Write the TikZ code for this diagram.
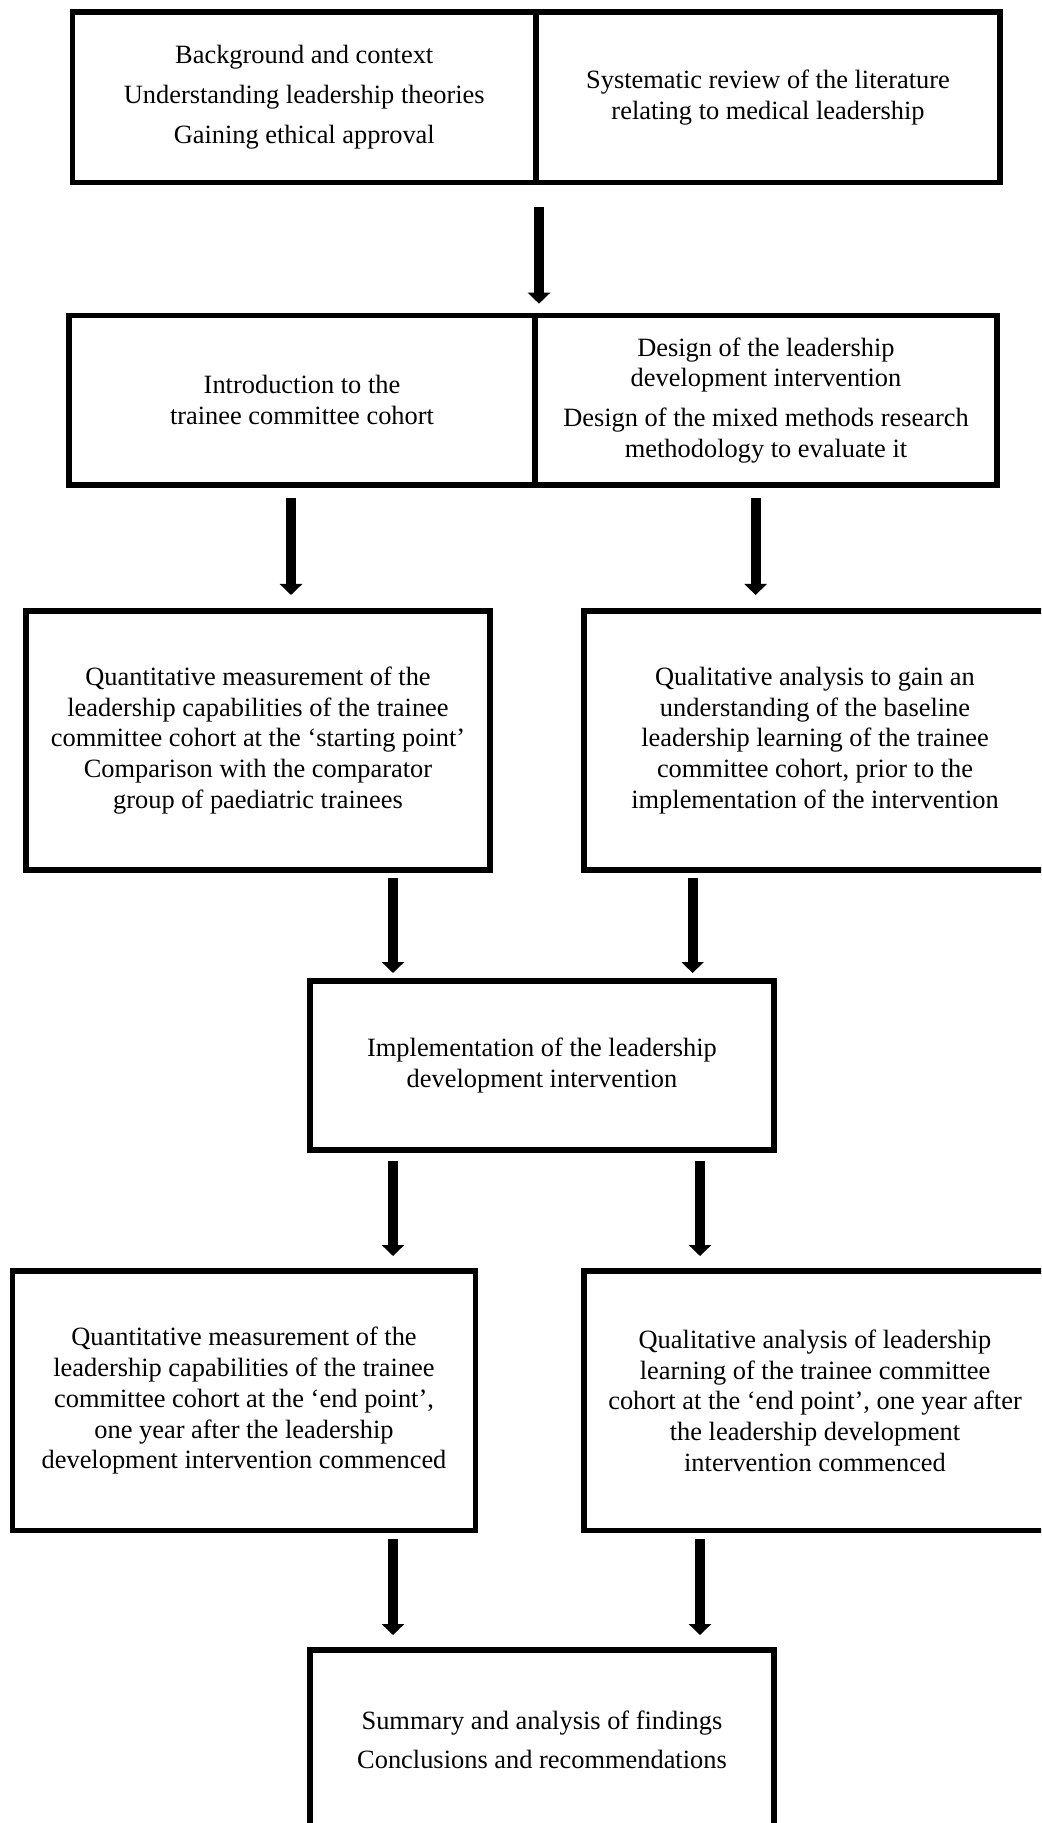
\documentclass[tikz,border=0pt]{standalone}
\usepackage{fontspec}
\setmainfont{Liberation Serif}
\usetikzlibrary{arrows.meta,calc}
% one drawing unit
\def\pu{0.4545pt}
\tikzset{
  box/.style={draw=black, line width=5.5*\pu, rectangle, inner sep=0pt, outer sep=0pt,
    align=center, font=\fontsize{12pt}{14pt}\selectfont},
  arr/.style={draw=black, line width=10*\pu, -{Triangle[width=22*\pu,length=11*\pu]}}
}
\begin{document}
\begin{tikzpicture}[x=\pu,y=-\pu]
\useasboundingbox (0,0) rectangle (1041,1823);
\clip (0,0) rectangle (1041,1823);

% stage 1
\node[box, minimum width=463.5*\pu, minimum height=170.5*\pu] (b1a) at (304.25,97.25)
  {Background and context\\[4pt]Understanding leadership theories\\[4pt]Gaining ethical approval};
\node[box, minimum width=464*\pu, minimum height=170.5*\pu] (b1b) at (768,97.25)
  {Systematic review of the literature\\relating to medical leadership};

% stage 2
\node[box, minimum width=466*\pu, minimum height=169.3*\pu] (b2a) at (302,400.35)
  {Introduction to the\\trainee committee cohort};
\node[box, minimum width=462*\pu, minimum height=169.3*\pu] (b2b) at (766,400.35)
  {Design of the leadership\\development intervention\\[4pt]Design of the mixed methods research\\methodology to evaluate it};

% stage 3
\node[box, minimum width=464*\pu, minimum height=259*\pu] (b3a) at (258,740.5)
  {Quantitative measurement of the\\leadership capabilities of the trainee\\committee cohort at the ‘starting point’\\Comparison with the comparator\\group of paediatric trainees};
\node[box, minimum width=462*\pu, minimum height=259*\pu] (b3b) at (815,740.5)
  {Qualitative analysis to gain an\\understanding of the baseline\\leadership learning of the trainee\\committee cohort, prior to the\\implementation of the intervention};

% stage 4
\node[box, minimum width=464*\pu, minimum height=169*\pu] (b4) at (542,1065.5)
  {Implementation of the leadership\\development intervention};

% stage 5
\node[box, minimum width=463*\pu, minimum height=259.5*\pu] (b5a) at (244,1400.75)
  {Quantitative measurement of the\\leadership capabilities of the trainee\\committee cohort at the ‘end point’,\\one year after the leadership\\development intervention commenced};
\node[box, minimum width=462*\pu, minimum height=259.5*\pu] (b5b) at (815,1400.75)
  {Qualitative analysis of leadership\\learning of the trainee committee\\cohort at the ‘end point’, one year after\\the leadership development\\intervention commenced};

% stage 6
\node[box, minimum width=464*\pu, minimum height=180*\pu] (b6) at (542,1740)
  {Summary and analysis of findings\\[4pt]Conclusions and recommendations};

% arrow columns
\coordinate (xa) at (539,0);
\coordinate (xl) at (291,0);
\coordinate (xr) at (755.6,0);
\coordinate (xm) at (393,0);
\coordinate (xn) at (692.6,0);
\coordinate (xo) at (700,0);

\draw[arr] ($(b1a.south -| xa)+(0,24.5)$) -- ($(b2a.north -| xa)+(0,-12)$);
\draw[arr] ($(b2a.south -| xl)+(0,13)$) -- ($(b3a.north -| xl)+(0,-16)$);
\draw[arr] ($(b2b.south -| xr)+(0,13)$) -- ($(b3b.north -| xr)+(0,-16)$);
\draw[arr] ($(b3a.south -| xm)+(0,7.5)$) -- ($(b4.north -| xm)+(0,-8)$);
\draw[arr] ($(b3b.south -| xn)+(0,7.5)$) -- ($(b4.north -| xn)+(0,-8)$);
\draw[arr] ($(b4.south -| xm)+(0,11)$) -- ($(b5a.north -| xm)+(0,-15)$);
\draw[arr] ($(b4.south -| xo)+(0,11)$) -- ($(b5b.north -| xo)+(0,-15)$);
\draw[arr] ($(b5a.south -| xm)+(0,8)$) -- ($(b6.north -| xm)+(0,-15)$);
\draw[arr] ($(b5b.south -| xo)+(0,8)$) -- ($(b6.north -| xo)+(0,-15)$);
\end{tikzpicture}
\end{document}
